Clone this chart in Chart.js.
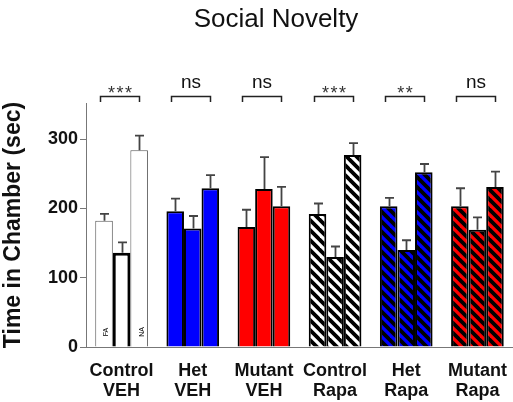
<!DOCTYPE html>
<html>
<head>
<meta charset="utf-8">
<script src="https://cdn.jsdelivr.net/npm/chart.js@4.4.1/dist/chart.umd.min.js"></script>
<style>
  html, body { margin: 0; padding: 0; background: #fff; }
  #wrap { width: 513px; height: 402px; }
</style>
</head>
<body>
<div id="wrap"><canvas id="c" width="513" height="402"></canvas></div>
<script>
// ---- data ----
const categories = [['Control', 'VEH'], ['Het', 'VEH'], ['Mutant', 'VEH'], ['Control', 'Rapa'], ['Het', 'Rapa'], ['Mutant', 'Rapa']];
const seriesNames = ['FA', 'Center', 'NA'];
const faValues = [182, 196, 173, 192, 203, 203];
const faErrors = [10, 18, 25, 15, 12, 26];
const centerValues = [136, 171, 228, 130, 140, 169];
const centerErrors = [15, 18, 46, 15, 14, 18];
const naValues = [284, 229, 203, 277, 252, 231];
const naErrors = [21, 19, 28, 17, 12, 22];
const significance = ['***', 'ns', 'ns', '***', '**', 'ns'];
const yTicks = [0, 100, 200, 300];
const titleText = 'Social Novelty';
const yAxisTitle = 'Time in Chamber (sec)';

// ---- styles ----
const FONT = "'Liberation Sans', Arial, sans-serif";
function hatch(bg) {
  const s = 10;
  const c = document.createElement('canvas');
  c.width = s; c.height = s;
  const g = c.getContext('2d');
  g.fillStyle = bg; g.fillRect(0, 0, s, s);
  g.strokeStyle = '#000'; g.lineWidth = 3.8; g.lineCap = 'square';
  for (let k = -1; k <= 1; k++) {
    g.beginPath(); g.moveTo(k * s - 2, -2); g.lineTo(k * s + s + 2, s + 2); g.stroke();
  }
  return g.createPattern(c, 'repeat');
}
const fills = ['#ffffff', '#0000ff', '#ff0000', hatch('#ffffff'), hatch('#0000ff'), hatch('#ff0000')];
const outerBorder = ['#555', '#000', '#000', '#000', '#000', '#000'];
const outerWidth = [1, 2, 2, 2, 2, 2];
const midWidth = [3, 2, 2, 2, 2, 2];

const errorSets = [faErrors, centerErrors, naErrors];

const overlay = {
  id: 'overlay',
  afterDatasetsDraw(chart) {
    const { ctx, chartArea, scales: { y } } = chart;
    ctx.save();
    // error bars
    ctx.strokeStyle = '#444';
    ctx.lineWidth = 1.8;
    chart.data.datasets.forEach((ds, di) => {
      const meta = chart.getDatasetMeta(di);
      meta.data.forEach((bar, i) => {
        const v = ds.data[i];
        const top = y.getPixelForValue(v + errorSets[di][i]);
        const x = Math.round(bar.x) + 0.5;
        ctx.beginPath();
        ctx.moveTo(x, bar.y);
        ctx.lineTo(x, top);
        ctx.moveTo(x - 4.5, top);
        ctx.lineTo(x + 4.5, top);
        ctx.stroke();
      });
    });
    // significance brackets
    const m0 = chart.getDatasetMeta(0), m2 = chart.getDatasetMeta(2);
    ctx.strokeStyle = '#222';
    ctx.lineWidth = 1.5;
    significance.forEach((s, i) => {
      const l = Math.round(m0.data[i].x - 4) + 0.5;
      const r = Math.round(m2.data[i].x) + 0.5;
      const bt = chartArea.top - 6.5;
      ctx.beginPath();
      ctx.moveTo(l, chartArea.top - 1);
      ctx.lineTo(l, bt);
      ctx.lineTo(r, bt);
      ctx.lineTo(r, chartArea.top - 1);
      ctx.stroke();
      const cx = (l + r) / 2;
      ctx.fillStyle = '#111';
      ctx.textAlign = 'center';
      ctx.textBaseline = 'alphabetic';
      if (s === 'ns') {
        ctx.font = '19px ' + FONT;
        ctx.fillText(s, cx, chartArea.top - 15);
      } else {
        ctx.fillStyle = '#333';
        ctx.font = '18px ' + FONT;
        const n = s.length, gap = 8.5;
        for (let k = 0; k < n; k++) {
          ctx.fillText('*', cx + (k - (n - 1) / 2) * gap, chartArea.top - 4);
        }
      }
    });
    // FA / NA tags inside first group
    ctx.fillStyle = '#000';
    ctx.font = '7px ' + FONT;
    [[m0, 'FA'], [m2, 'NA']].forEach(([m, t]) => {
      const b = m.data[0];
      ctx.save();
      ctx.translate(b.x + 2.5, chartArea.bottom - 15);
      ctx.rotate(-Math.PI / 2);
      ctx.textAlign = 'center';
      ctx.textBaseline = 'middle';
      ctx.fillText(t, 0, 0);
      ctx.restore();
    });
    // title
    ctx.fillStyle = '#111';
    ctx.font = '26px ' + FONT;
    ctx.textAlign = 'center';
    ctx.textBaseline = 'middle';
    ctx.fillText(titleText, 276, 20);
    ctx.restore();
  }
};

new Chart(document.getElementById('c'), {
  type: 'bar',
  data: {
    labels: categories,
    datasets: [
      { label: seriesNames[0], data: faValues, backgroundColor: fills, borderColor: outerBorder, borderWidth: outerWidth },
      { label: seriesNames[1], data: centerValues, backgroundColor: fills, borderColor: '#000', borderWidth: midWidth },
      { label: seriesNames[2], data: naValues, backgroundColor: fills, borderColor: outerBorder, borderWidth: outerWidth }
    ]
  },
  options: {
    responsive: false,
    animation: false,
    devicePixelRatio: 1,
    categoryPercentage: 0.74,
    barPercentage: 1.0,
    layout: { padding: { top: 103, right: 0, left: 0, bottom: 0 } },
    plugins: { legend: { display: false }, tooltip: { enabled: false }, title: { display: false } },
    scales: {
      x: {
        grid: { display: false },
        border: { color: '#777', width: 1 },
        ticks: { color: '#111', font: { family: FONT, size: 18, weight: 'bold', lineHeight: 1.13 }, padding: 6, maxRotation: 0 },
        afterFit(s) { s.height = 55; }
      },
      y: {
        min: 0,
        max: 352,
        afterBuildTicks(s) { s.ticks = yTicks.map(v => ({ value: v })); },
        grid: { drawOnChartArea: false, drawTicks: true, tickLength: 6, color: '#777' },
        border: { color: '#777', width: 1 },
        ticks: { color: '#111', font: { family: FONT, size: 18, weight: 'bold' }, padding: 2 },
        title: { display: true, text: yAxisTitle, color: '#111', font: { family: FONT, size: 23, weight: 'bold' }, padding: { top: 0, bottom: 0 } },
        afterFit(s) { s.width = 86; }
      }
    }
  },
  plugins: [overlay]
});
</script>
</body>
</html>
